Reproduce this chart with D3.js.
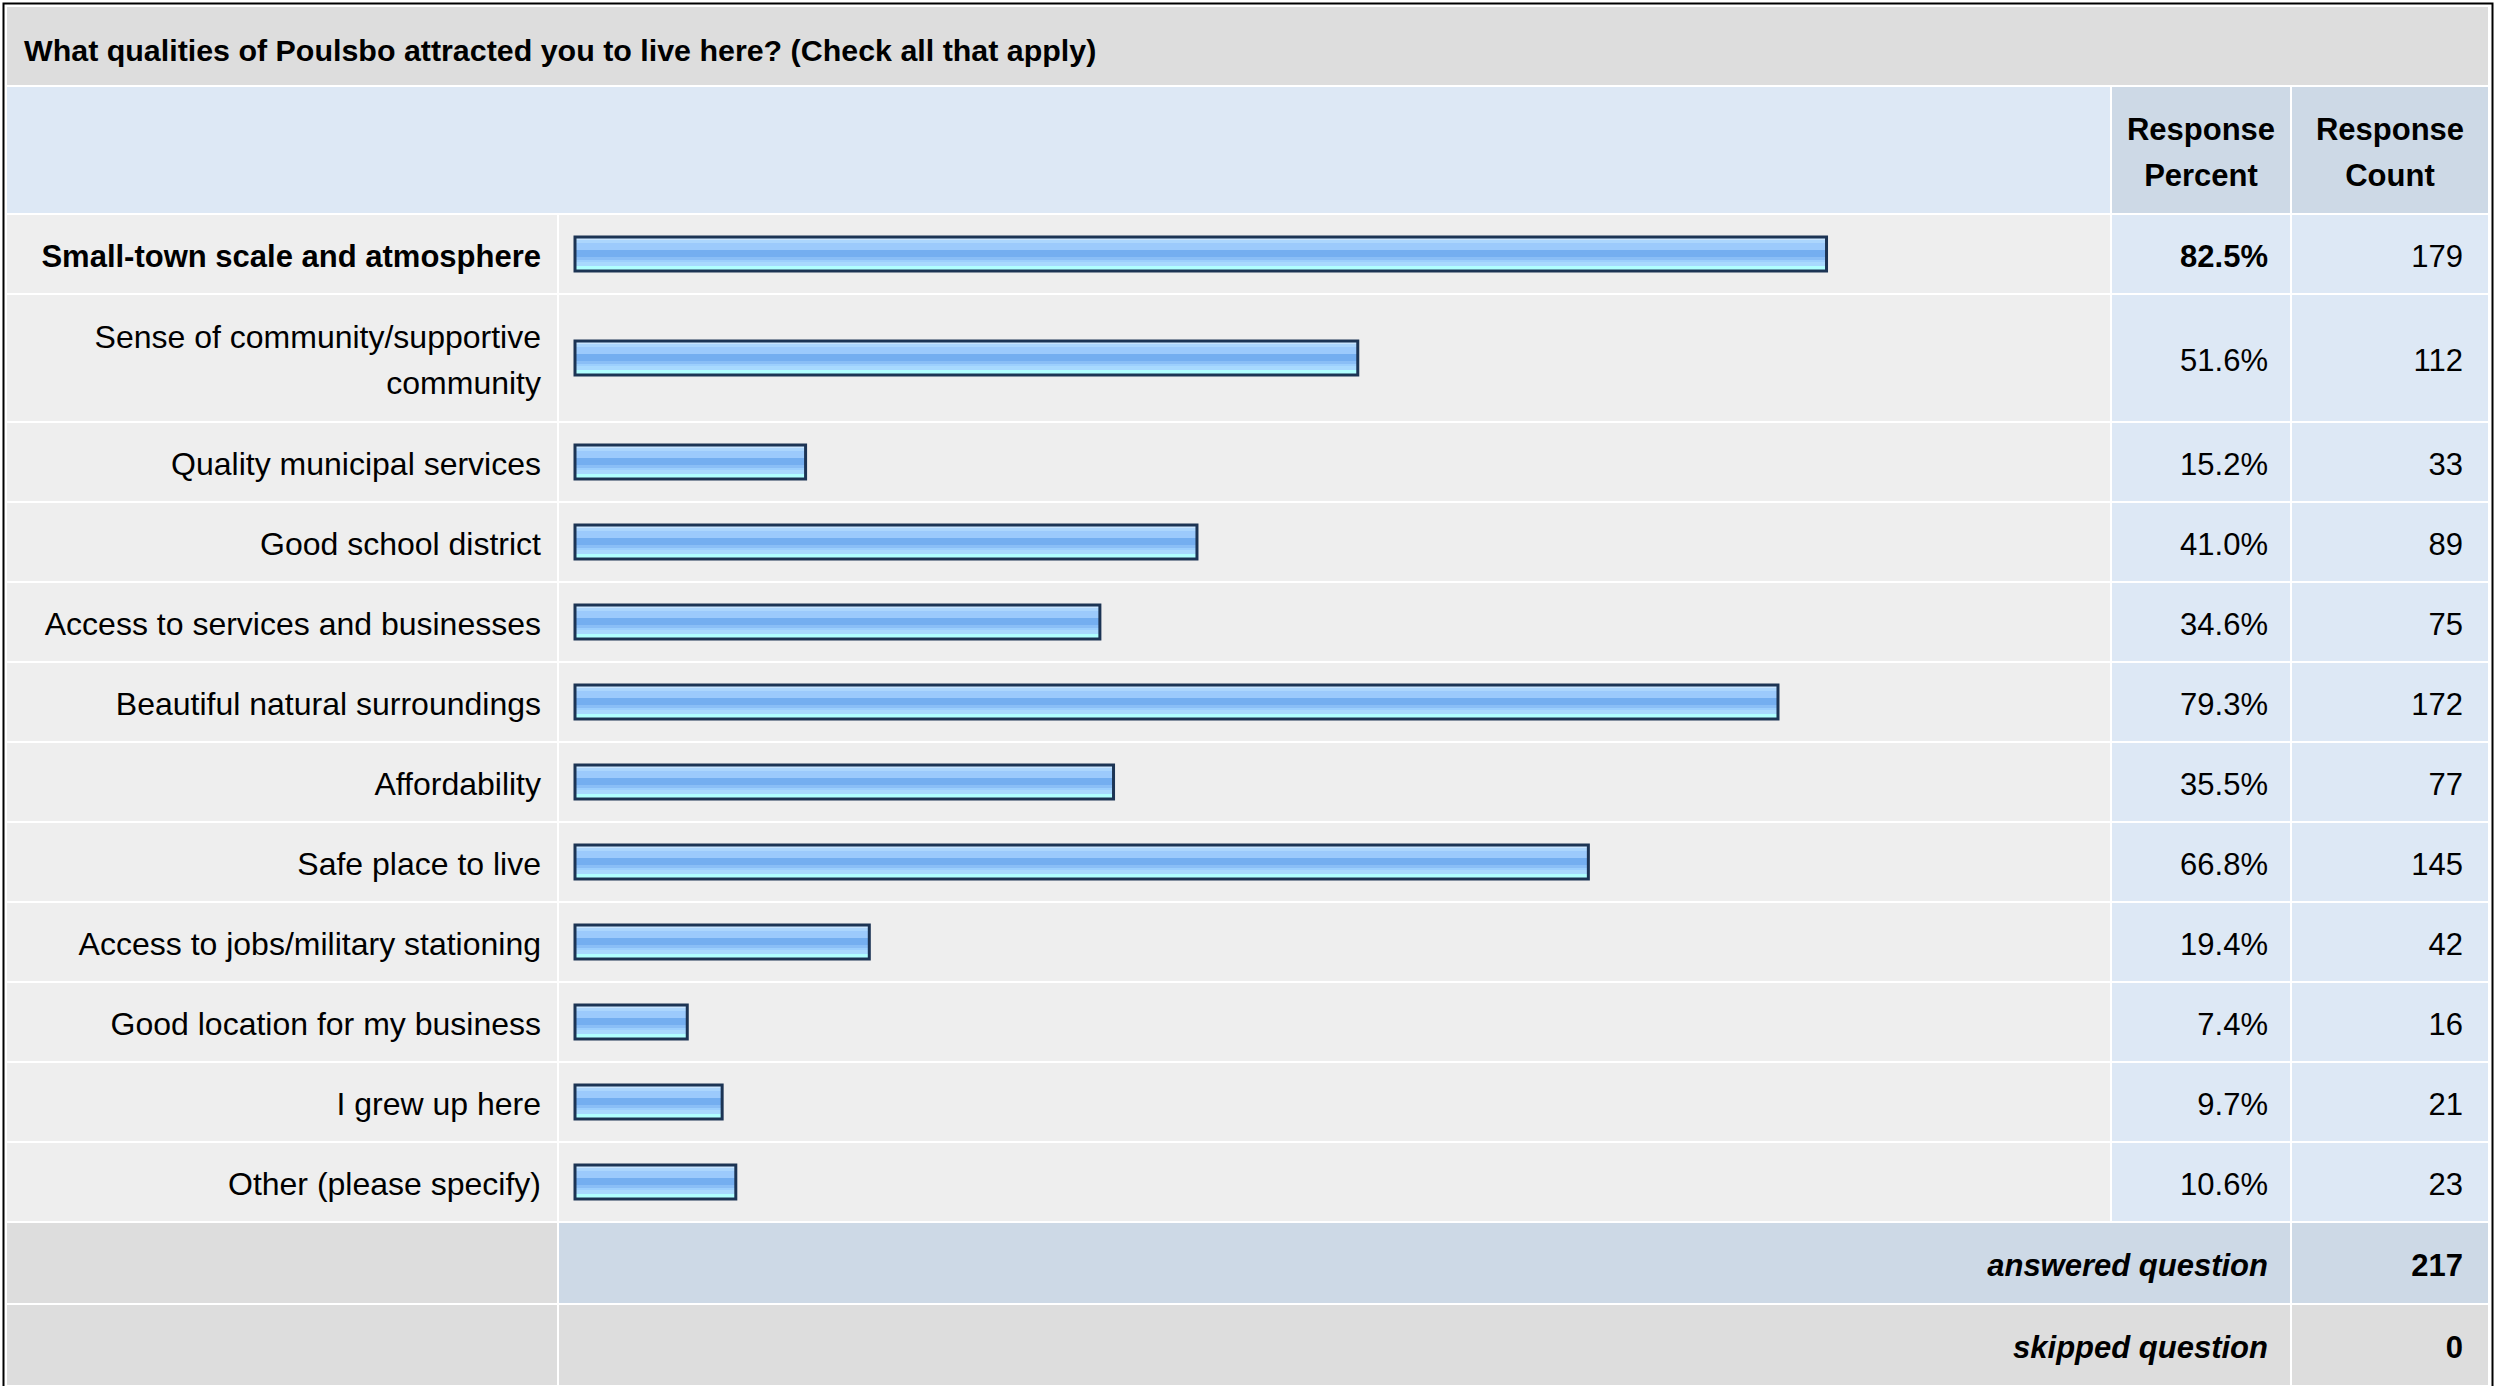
<!DOCTYPE html>
<html>
<head>
<meta charset="utf-8">
<script src="https://cdn.jsdelivr.net/npm/d3@7"></script>
<style>
  body { margin: 0; background: #fff; }
  text { font-family: "Liberation Sans", Arial, sans-serif; fill: #000; }
</style>
</head>
<body>
<div id="chart"></div>
<script>
// survey data
let title = 'What qualities of Poulsbo attracted you to live here? (Check all that apply)';
let headers = [['Response', 'Percent'], ['Response', 'Count']];
let labels = [
  'Small-town scale and atmosphere',
  'Sense of community/supportive community',
  'Quality municipal services',
  'Good school district',
  'Access to services and businesses',
  'Beautiful natural surroundings',
  'Affordability',
  'Safe place to live',
  'Access to jobs/military stationing',
  'Good location for my business',
  'I grew up here',
  'Other (please specify)'
];
let percents = [82.5, 51.6, 15.2, 41.0, 34.6, 79.3, 35.5, 66.8, 19.4, 7.4, 9.7, 10.6];
let counts = [179, 112, 33, 89, 75, 172, 77, 145, 42, 16, 21, 23];
let footerLabels = ['answered question', 'skipped question'];
let footerValues = [217, 0];

// Step 1: layout
let svgWidth = 2517;
let svgHeight = 1386;
let gap = 2;
let fontSize = 31;
let labelSize = 32;
let lineH = 46.5;
let labelMax = 505;

let colLabel = {x: 7, w: 550};
let colBar = {x: 559, w: 1551};
let colPct = {x: 2112, w: 178};
let colCnt = {x: 2292, w: 196};

let svg = d3.select('#chart')
  .append('svg')
  .attr('width', svgWidth)
  .attr('height', svgHeight);

// bar gradient, striped like the original image
let defs = svg.append('defs');
let stripes = [
  [0, '#c8e4fe'], [0.083, '#acd6fd'], [0.167, '#9ccafc'], [0.396, '#74aef0'],
  [0.583, '#8abef6'], [0.667, '#9ccffd'], [0.74, '#a8d9fe'], [0.844, '#b0ffff']
];
let grad = defs.append('linearGradient')
  .attr('id', 'barGrad')
  .attr('x1', 0).attr('x2', 0).attr('y1', 0).attr('y2', 1);
stripes.forEach((s, i) => {
  let end = i < stripes.length - 1 ? stripes[i + 1][0] : 1;
  grad.append('stop').attr('offset', s[0]).attr('stop-color', s[1]);
  grad.append('stop').attr('offset', end).attr('stop-color', s[1]);
});

// helper: text lines wrapped to a width
let measure = svg.append('text');
function wrap(str, bold) {
  measure.style('font-weight', bold ? 'bold' : 'normal')
    .style('font-size', (bold ? fontSize : labelSize) + 'px');
  let words = str.split(' ');
  let lines = [];
  let cur = '';
  words.forEach(w => {
    let test = cur ? cur + ' ' + w : w;
    measure.text(test);
    if (cur && measure.node().getComputedTextLength() > labelMax) {
      lines.push(cur);
      cur = w;
    } else {
      cur = test;
    }
  });
  lines.push(cur);
  return lines;
}

let maxIdx = percents.indexOf(d3.max(percents));
let rows = labels.map((l, i) => {
  let bold = i === maxIdx;
  let lines = wrap(l, bold);
  return {label: l, lines: lines, bold: bold, pct: percents[i], cnt: counts[i],
          h: 78 + (lines.length - 1) * 48};
});
measure.remove();

// vertical positions
let titleY = 7, titleH = 78;
let headY = titleY + titleH + gap, headH = 126;
let y0 = headY + headH + gap;
rows.forEach(r => { r.y = y0; y0 += r.h + gap; });
let footY = y0;
let footH = 80;

// scales
let xScale = d3.scaleLinear().domain([0, 100]).range([0, 1517]);
let barLeft = colBar.x + 16;
let barH = 34;

// outer frame
svg.append('rect')
  .attr('x', 3.5).attr('y', 3.5)
  .attr('width', 2489).attr('height', svgHeight + 20)
  .attr('fill', '#fff')
  .attr('stroke', '#000')
  .attr('stroke-width', 2);

// title band
svg.append('rect')
  .attr('x', colLabel.x).attr('y', titleY)
  .attr('width', colCnt.x + colCnt.w - colLabel.x).attr('height', titleH)
  .attr('fill', '#dddddd');
svg.append('text')
  .attr('x', 24).attr('y', titleY + titleH / 2 + 15)
  .style('font-size', '30.4px')
  .style('font-weight', 'bold')
  .text(title);

// header row
svg.append('rect')
  .attr('x', colLabel.x).attr('y', headY)
  .attr('width', colBar.x + colBar.w - colLabel.x).attr('height', headH)
  .attr('fill', '#dde8f5');
[colPct, colCnt].forEach((c, i) => {
  svg.append('rect')
    .attr('x', c.x).attr('y', headY)
    .attr('width', c.w).attr('height', headH)
    .attr('fill', '#cdd9e6');
  svg.append('text')
    .attr('x', c.x + c.w / 2)
    .attr('y', headY + headH / 2 - lineH / 2 + 13)
    .attr('text-anchor', 'middle')
    .style('font-size', fontSize + 'px')
    .style('font-weight', 'bold')
    .selectAll('tspan')
    .data(headers[i])
    .enter()
    .append('tspan')
    .attr('x', c.x + c.w / 2)
    .attr('dy', (d, j) => j === 0 ? 0 : lineH)
    .text(d => d);
});

// data rows
let rowG = svg.selectAll('.row')
  .data(rows)
  .enter()
  .append('g')
  .attr('class', 'row')
  .attr('transform', d => `translate(0,${d.y})`);

rowG.append('rect')
  .attr('x', colLabel.x).attr('width', colLabel.w)
  .attr('height', d => d.h).attr('fill', '#eeeeee');
rowG.append('rect')
  .attr('x', colBar.x).attr('width', colBar.w)
  .attr('height', d => d.h).attr('fill', '#eeeeee');
rowG.append('rect')
  .attr('x', colPct.x).attr('width', colPct.w)
  .attr('height', d => d.h).attr('fill', '#dde8f5');
rowG.append('rect')
  .attr('x', colCnt.x).attr('width', colCnt.w)
  .attr('height', d => d.h).attr('fill', '#dde8f5');

// labels
rowG.append('text')
  .attr('text-anchor', 'end')
  .attr('y', d => d.h / 2 - (d.lines.length - 1) * lineH / 2 + 13)
  .style('font-size', d => (d.bold ? fontSize : labelSize) + 'px')
  .style('font-weight', d => d.bold ? 'bold' : 'normal')
  .selectAll('tspan')
  .data(d => d.lines)
  .enter()
  .append('tspan')
  .attr('x', colLabel.x + colLabel.w - 16)
  .attr('dy', (d, j) => j === 0 ? 0 : lineH)
  .text(d => d);

// bars
rowG.append('rect')
  .attr('x', barLeft)
  .attr('y', d => d.h / 2 - barH / 2)
  .attr('width', d => xScale(d.pct))
  .attr('height', barH)
  .attr('fill', 'url(#barGrad)')
  .attr('stroke', '#1c3454')
  .attr('stroke-width', 3);

// percent and count
rowG.append('text')
  .attr('x', colPct.x + colPct.w - 22)
  .attr('y', d => d.h / 2 + 13)
  .attr('text-anchor', 'end')
  .style('font-size', fontSize + 'px')
  .style('font-weight', d => d.bold ? 'bold' : 'normal')
  .text(d => d.pct.toFixed(1) + '%');
rowG.append('text')
  .attr('x', colCnt.x + colCnt.w - 25)
  .attr('y', d => d.h / 2 + 13)
  .attr('text-anchor', 'end')
  .style('font-size', fontSize + 'px')
  .text(d => d.cnt);

// footer rows
let footG = svg.selectAll('.foot')
  .data(footerLabels)
  .enter()
  .append('g')
  .attr('class', 'foot')
  .attr('transform', (d, i) => `translate(0,${footY + i * (footH + gap)})`);

footG.append('rect')
  .attr('x', colLabel.x).attr('width', colLabel.w)
  .attr('height', footH).attr('fill', '#dddddd');
footG.append('rect')
  .attr('x', colBar.x).attr('width', colPct.x + colPct.w - colBar.x)
  .attr('height', footH).attr('fill', (d, i) => i === 0 ? '#cdd9e6' : '#dddddd');
footG.append('rect')
  .attr('x', colCnt.x).attr('width', colCnt.w)
  .attr('height', footH).attr('fill', (d, i) => i === 0 ? '#cdd9e6' : '#dddddd');
footG.append('text')
  .attr('x', colPct.x + colPct.w - 22)
  .attr('y', footH / 2 + 13)
  .attr('text-anchor', 'end')
  .style('font-size', fontSize + 'px')
  .style('font-weight', 'bold')
  .style('font-style', 'italic')
  .text(d => d);
footG.append('text')
  .attr('x', colCnt.x + colCnt.w - 25)
  .attr('y', footH / 2 + 13)
  .attr('text-anchor', 'end')
  .style('font-size', fontSize + 'px')
  .style('font-weight', 'bold')
  .text((d, i) => footerValues[i]);
</script>
</body>
</html>
